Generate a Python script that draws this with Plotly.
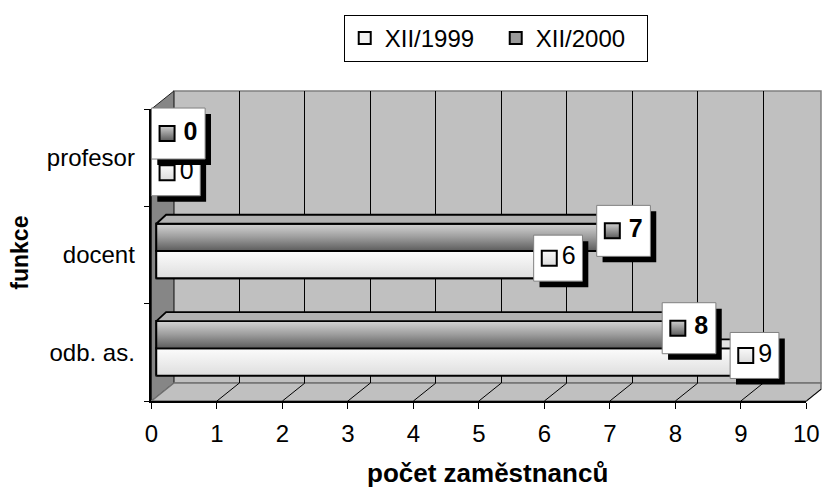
import plotly.graph_objects as go

# ---------------- data ----------------
categories = ["odb. as.", "docent", "profesor"]
series_names = ["XII/1999", "XII/2000"]
values_1999 = [9, 6, 0]
values_2000 = [8, 7, 0]
x_tick_values = list(range(0, 11))
x_tick_labels = [str(v) for v in x_tick_values]
x_title = "počet zaměstnanců"
y_title = "funkce"

# ---------------- geometry / style ----------------
FONT = "Liberation Sans, Arial, sans-serif"
W, H = 834, 490
FX0, FX1 = 148, 819          # front plane: pixel of x=0 and x=10
FY0, FY1 = 109, 401          # front plane: top / bottom pixel
DX, DY = 23, 18              # depth offset of the back wall
BX, BY = 5, 4                # bars sit slightly behind the front plane
XMAX = 10
PXU = (FX1 - FX0) / XMAX
CU = (FY1 - FY0) / len(categories)
BAR_W = 0.28
TDX_PX, TDY_PX = 10, 9       # 3D depth of the bars


def ppx(px):
    return px / W


def ppy(py):
    return 1 - py / H


def bx_px(v):
    return FX0 + BX + v * PXU


def by_px(c):
    return (FY1 - BY) - (c + 0.5) * CU


def px2bx(px):
    return (px - (FX0 + BX)) / PXU


def py2by(py):
    return ((FY1 - BY) - py) / CU - 0.5


tdx = TDX_PX / PXU
tdy = TDY_PX / CU

fig = go.Figure()

# invisible anchors so that the front axes and back-wall grid subplots exist
fig.add_trace(go.Scatter(x=[None], y=[None], xaxis="x", yaxis="y", showlegend=False, hoverinfo="skip"))
fig.add_trace(go.Scatter(x=[None], y=[None], xaxis="x2", yaxis="y2", showlegend=False, hoverinfo="skip"))

# base bars (data + legend)
light_col = "#f2f2f2"
dark_col = "#9a9a9a"
ypos = list(range(len(categories)))
fig.add_trace(go.Bar(y=ypos, x=values_1999, orientation="h", name=series_names[0],
                     width=BAR_W, offset=-BAR_W, marker=dict(color=light_col, line=dict(color="black", width=2)),
                     xaxis="x3", yaxis="y3", hoverinfo="x+name"))
fig.add_trace(go.Bar(y=ypos, x=values_2000, orientation="h", name=series_names[1],
                     width=BAR_W, offset=0, marker=dict(color=dark_col, line=dict(color="black", width=2)),
                     xaxis="x3", yaxis="y3", hoverinfo="x+name"))


def poly(xs, ys, **kw):
    return go.Scatter(x=list(xs) + [xs[0]], y=list(ys) + [ys[0]], mode="lines", fill="toself",
                      xaxis="x3", yaxis="y3", hoverinfo="skip", showlegend=False,
                      line=dict(color="black", width=1.8), **kw)


LIGHT_GRAD = [[0, "#dedede"], [1, "#fcfcfc"]]
DARK_GRAD = [[0, "#5c5c5c"], [0.5, "#9c9c9c"], [1, "#d4d4d4"]]

for c, (v1, v2) in enumerate(zip(values_1999, values_2000)):
    fig.add_trace(poly([0, v1, v1, 0], [c - BAR_W, c - BAR_W, c, c],
                       fillgradient=dict(type="vertical", colorscale=LIGHT_GRAD)))
    if v1 > v2:
        fig.add_trace(poly([v2, v1, v1 + tdx, v2], [c, c, c + tdy, c + tdy], fillcolor="#e2e2e2"))
        fig.add_trace(poly([v1, v1 + tdx, v1 + tdx, v1], [c - BAR_W, c - BAR_W + tdy, c + tdy, c],
                           fillcolor="#cfcfcf"))
    else:
        fig.add_trace(poly([v1, v1 + tdx, v1 + tdx, v1], [c - BAR_W, c - BAR_W + tdy, c, c],
                           fillcolor="#cfcfcf"))
    fig.add_trace(poly([0, v2, v2, 0], [c, c, c + BAR_W, c + BAR_W],
                       fillgradient=dict(type="vertical", colorscale=DARK_GRAD)))
    fig.add_trace(poly([0, v2, v2 + tdx, tdx], [c + BAR_W, c + BAR_W, c + BAR_W + tdy, c + BAR_W + tdy],
                       fillcolor="#b2b2b2"))
    fig.add_trace(poly([v2, v2 + tdx, v2 + tdx, v2], [c, c + tdy, c + BAR_W + tdy, c + BAR_W],
                       fillcolor="#7e7e7e"))

# ---------------- data labels ----------------
for s, vals in enumerate([values_1999, values_2000]):
    dark = s == 1
    bw, bh = (55, 51) if dark else (50, 46)
    sh_x, sh_y, bx_x, bx_y, kx, ky, tx, ty, tt = [], [], [], [], [], [], [], [], []
    for c, v in enumerate(vals):
        cx_raw = bx_px(v) + 9
        cx = max(cx_raw, FX0 + bw / 2)
        if dark:
            top = by_px(c + BAR_W) - TDY_PX
            bot = by_px(c)
        else:
            top = by_px(c) - TDY_PX
            bot = by_px(c - BAR_W)
        cy = (top + bot) / 2 - 2
        if cx_raw < cx and not dark:
            cy += 12
        l, r = cx - bw / 2, cx + bw / 2
        t, b = cy - bh / 2, cy + bh / 2
        for (xa, ya, off) in ((sh_x, sh_y, 6), (bx_x, bx_y, 0)):
            xa += [px2bx(l + off), px2bx(r + off), px2bx(r + off), px2bx(l + off), px2bx(l + off), None]
            ya += [py2by(t + off), py2by(t + off), py2by(b + off), py2by(b + off), py2by(t + off), None]
        kx.append(px2bx(l + 16))
        ky.append(py2by(cy))
        tx.append(px2bx(l + (40 if dark else 36)))
        ty.append(py2by(cy))
        tt.append(str(v))
    fig.add_trace(go.Scatter(x=sh_x, y=sh_y, mode="lines", fill="toself", fillcolor="black",
                             line=dict(color="black", width=0), xaxis="x3", yaxis="y3",
                             hoverinfo="skip", showlegend=False))
    fig.add_trace(go.Scatter(x=bx_x, y=bx_y, mode="lines", fill="toself", fillcolor="white",
                             line=dict(color="#808080", width=1), xaxis="x3", yaxis="y3",
                             hoverinfo="skip", showlegend=False))
    fig.add_trace(go.Scatter(x=kx, y=ky, mode="markers", xaxis="x3", yaxis="y3", hoverinfo="skip",
                             showlegend=False, cliponaxis=False,
                             marker=dict(symbol="square", size=15,
                                         color="#d0d0d0" if dark else "#fafafa",
                                         gradient=dict(type="vertical", color="#5a5a5a" if dark else "#dcdcdc"),
                                         line=dict(color="black", width=2))))
    fig.add_trace(go.Scatter(x=tx, y=ty, mode="text", text=tt, textposition="middle center",
                             xaxis="x3", yaxis="y3", hoverinfo="skip", showlegend=False, cliponaxis=False,
                             textfont=dict(family=FONT, size=25, color="black",
                                           weight="bold" if dark else "normal")))

# ---------------- walls, floor ----------------
shapes = []
shapes.append(dict(type="rect", xref="paper", yref="paper", layer="below",
                   x0=ppx(FX0 + DX), x1=1.0, y0=ppy(FY1 - DY), y1=ppy(FY0 - DY),
                   fillcolor="#c0c0c0", line=dict(color="#808080", width=1.5)))


def path(pts):
    return "M " + " L ".join(f"{ppx(x):.5f},{ppy(y):.5f}" for x, y in pts) + " Z"


shapes.append(dict(type="path", xref="paper", yref="paper", layer="below",
                   path=path([(FX0, FY0), (FX0 + DX, FY0 - DY), (FX0 + DX, FY1 - DY), (FX0, FY1)]),
                   fillcolor="#868686", line=dict(color="#202020", width=1)))
right_clip_y = FY1 - DY * (W - FX1) / DX
shapes.append(dict(type="path", xref="paper", yref="paper", layer="below",
                   path=path([(FX0, FY1), (FX0 + DX, FY1 - DY), (W, FY1 - DY), (W, right_clip_y), (FX1, FY1)]),
                   fillcolor="#c0c0c0", line=dict(color="#707070", width=1.5)))
for k in x_tick_values[1:-1]:
    xf = FX0 + k * PXU
    shapes.append(dict(type="line", xref="paper", yref="paper", layer="below",
                       x0=ppx(xf), y0=ppy(FY1), x1=ppx(xf + DX), y1=ppy(FY1 - DY),
                       line=dict(color="black", width=1)))
shapes.append(dict(type="line", xref="paper", yref="paper", layer="below",
                   x0=ppx(FX1), y0=ppy(FY1), x1=1.0, y1=ppy(right_clip_y),
                   line=dict(color="black", width=1)))

back_max = (W - (FX0 + DX)) / PXU
bounds = [i - 0.5 for i in range(len(categories) + 1)]

fig.update_layout(
    width=W, height=H,
    margin=dict(l=0, r=0, t=0, b=0),
    paper_bgcolor="white", plot_bgcolor="rgba(0,0,0,0)",
    font=dict(family=FONT, size=24, color="black"),
    shapes=shapes,
    showlegend=True,
    legend=dict(orientation="h", x=ppx(345), y=ppy(15), xanchor="left", yanchor="top",
                bgcolor="white", bordercolor="black", borderwidth=1,
                font=dict(family=FONT, size=24, color="black"), itemwidth=30, traceorder="normal",
                entrywidth=106, entrywidthmode="pixels"),
    xaxis=dict(domain=[ppx(FX0), ppx(FX1)], range=[0, XMAX], anchor="y",
               tickmode="array", tickvals=x_tick_values, ticktext=x_tick_labels,
               ticks="outside", ticklen=6, tickcolor="black", tickwidth=1,
               showline=True, linecolor="black", linewidth=1.5, showgrid=False, zeroline=False,
               tickfont=dict(size=24), ticklabelstandoff=4, fixedrange=True),
    yaxis=dict(domain=[ppy(FY1), ppy(FY0)], range=[-0.5, len(categories) - 0.5], anchor="x",
               tickmode="array", tickvals=ypos, ticktext=categories, ticks="outside", ticklen=10,
               tickcolor="rgba(0,0,0,0)",
               showline=True, linecolor="black", linewidth=1.5, showgrid=False, zeroline=False,
               tickfont=dict(size=24), fixedrange=True),
    yaxis4=dict(domain=[ppy(FY1), ppy(FY0)], range=[-0.5, len(categories) - 0.5], anchor="x",
                overlaying="y", side="left", tickmode="array", tickvals=bounds,
                ticktext=["" for _ in bounds], ticks="outside", ticklen=6, tickcolor="black",
                showline=False, showgrid=False, zeroline=False, fixedrange=True),
    xaxis2=dict(domain=[ppx(FX0 + DX), 1.0], range=[0, back_max], anchor="y2",
                showgrid=True, gridcolor="black", gridwidth=1, tick0=0, dtick=1,
                showticklabels=False, ticks="", zeroline=False, showline=False, fixedrange=True),
    yaxis2=dict(domain=[ppy(FY1 - DY), ppy(FY0 - DY)], range=[0, 1], anchor="x2",
                showgrid=False, showticklabels=False, ticks="", zeroline=False, showline=False,
                fixedrange=True),
    xaxis3=dict(domain=[ppx(140), 1.0], range=[px2bx(140), px2bx(W)], anchor="y3",
                visible=False, fixedrange=True),
    yaxis3=dict(domain=[ppy(FY1), ppy(100)], range=[py2by(FY1), py2by(100)], anchor="x3",
                visible=False, fixedrange=True),
    annotations=[
        dict(text=f"<b>{y_title}</b>", xref="paper", yref="paper", x=ppx(13), y=ppy(253),
             xanchor="center", yanchor="middle",
             textangle=-90, showarrow=False, font=dict(size=23)),
        dict(text=f"<b>{x_title}</b>", xref="paper", yref="paper", x=ppx(492), y=ppy(473),
             xanchor="center", yanchor="middle",
             showarrow=False, font=dict(size=26)),
    ],
)
fig.add_trace(go.Scatter(x=[None], y=[None], xaxis="x", yaxis="y4", showlegend=False, hoverinfo="skip"))

fig.write_html("out.html", config={"displayModeBar": False},
               post_script="document.body.style.margin='0px';")
